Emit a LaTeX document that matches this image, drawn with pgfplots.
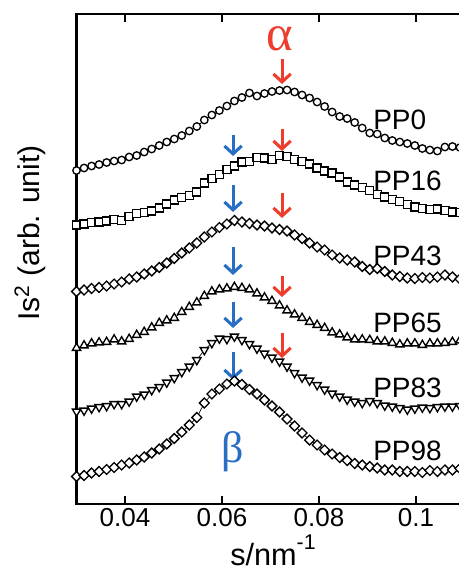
\documentclass[border=0pt]{standalone}
\usepackage{fontspec}
\setmainfont{Liberation Sans}
\newfontfamily\greekfont{Liberation Serif}
\usepackage{pgfplots}
\pgfplotsset{compat=1.18}
\usepackage{pgfplotstable}
\usetikzlibrary{arrows.meta}
\definecolor{ared}{RGB}{238,60,45}
\definecolor{ablue}{RGB}{40,110,195}

\pgfplotstableread{
s p0 p16 p43 p65 p83 p98
0.03000 170.5 225 291.5 348 411.5 476.5
0.03155 168 224 290 345.5 410.5 475.5
0.03310 166 222.5 288.5 343.5 408.5 473
0.03465 164.5 222 287.5 342.5 407 471.5
0.03620 162.5 221 286 342 406 469.5
0.03775 161 219.5 284 339.5 404 467.5
0.03930 160 220.5 282 341.5 404 465
0.04085 157 216.5 279 339 401.5 463
0.04240 155.5 213.5 277 335 396.5 460
0.04395 152 212.5 274 332 394.5 457
0.04550 149 211 271 327.5 390 453
0.04705 145.5 208 267.5 323 387 449
0.04860 142 204 263 320.5 382.5 444
0.05015 139 200 258.5 318 378 438.5
0.05170 135.5 197.5 253 312 372 432
0.05325 131 195.5 248 307 366.5 425
0.05480 126.5 192 243 302.5 360 417.5
0.05635 120 183 237 296 350 403
0.05790 115 178.5 232 291.5 343 394
0.05945 110.5 174.5 227.5 289.5 338.5 389
0.06100 106 169.5 224 288.5 339 384
0.06255 101 166 220.5 287 336.5 381
0.06410 97.5 162 222 288 340 384.5
0.06565 93 161.5 223.5 289.5 344 389.5
0.06720 96 157.5 225 293.5 348.5 394
0.06875 93.5 158 226 297.5 353.5 400
0.07030 91.5 159.5 228 301 357.5 406
0.07185 90.5 155.5 229.5 305.5 361.5 412
0.07340 90 156.5 231 310.5 366.5 419
0.07495 92 159.5 235 314.5 373 426
0.07650 95 161.5 238.5 318 377.5 433
0.07805 98 164 243 322 380.5 440
0.07960 102 168 247 325 385 445
0.08115 106.5 171 250 328 389.5 450
0.08270 112 173 255 332.5 393.5 454
0.08425 116.5 177 258 334.5 396.5 457.5
0.08580 118.5 182 260 337.5 399.5 460.5
0.08735 122.5 185 262 339.5 401.5 463.5
0.08890 128 187.5 266.5 339.5 403 465
0.09045 133 190.5 269.5 340 401 466.5
0.09200 134 194.5 268.5 341.5 403 468
0.09355 138 197 271.5 341.5 405.5 470
0.09510 140.5 199.5 275 343 406.5 470
0.09665 142 201.5 276.5 344.5 408 471.5
0.09820 143.5 204.5 278 343.5 409.5 471.5
0.09975 145.5 207 278.5 343.5 408.5 471.5
0.10130 148.5 208.5 277.5 345 407.5 472.5
0.10285 150 209.5 278 343.5 408 470.5
0.10440 151 209 277 343.5 407 471.5
0.10595 147 210.5 275 343 406.5 470
0.10750 146.5 212 277 342 406.5 470
0.10905 147.5 212.5 279 340.5 406 468.5
}\data

\begin{document}
\begin{tikzpicture}
\useasboundingbox (0pt,0pt) rectangle (344.25pt,430.5pt);
\begin{axis}[
  at={(57.4pt,52.5pt)}, anchor=south west,
  scale only axis, width=298.3pt, height=367.5pt,
  xmin=0.03, xmax=0.112, ymin=14, ymax=504, y dir=reverse,
  xtick={0.04,0.06,0.08,0.1}, xticklabels={0.04,0.06,0.08,0.1},
  ytick=\empty,
  tick label style={font=\fontsize{19.5}{21}\selectfont},
  /pgf/number format/assume math mode=true,
  major tick length=6pt,
  axis line style={line width=1.8pt},
  tick style={line width=1.4pt, black},
  clip=false,
]
\pgfplotsset{mk/.style={black, line width=0.5pt, mark options={fill=white, draw=black, line width=1pt, solid, #1}}}
\addplot[mk={}, mark=*, mark size=2.8pt] table[x=s,y=p0] {\data};
\addplot[mk={}, mark=square*, mark size=3pt] table[x=s,y=p16] {\data};
\addplot[mk={rotate=45}, mark=square*, mark size=2.6pt] table[x=s,y=p43] {\data};
\addplot[mk={}, mark=triangle*, mark size=3.6pt] table[x=s,y=p65] {\data};
\addplot[mk={rotate=180}, mark=triangle*, mark size=3.6pt] table[x=s,y=p83] {\data};
\addplot[mk={rotate=45}, mark=square*, mark size=2.6pt] table[x=s,y=p98] {\data};

\tikzset{ra/.style={ared, line width=2.3pt, -{Straight Barb[length=6pt,width=13pt]}},
         ba/.style={ablue, line width=2.3pt, -{Straight Barb[length=6pt,width=13pt]}}}
\draw[ra] (axis cs:0.07237,59) -- (axis cs:0.07237,84);
\draw[ra] (axis cs:0.07237,129) -- (axis cs:0.07237,151);
\draw[ra] (axis cs:0.07237,193) -- (axis cs:0.07237,218);
\draw[ra] (axis cs:0.07237,276) -- (axis cs:0.07237,297);
\draw[ra] (axis cs:0.07237,333) -- (axis cs:0.07237,358);
\draw[ba] (axis cs:0.06227,135) -- (axis cs:0.06227,156);
\draw[ba] (axis cs:0.06227,185) -- (axis cs:0.06227,212);
\draw[ba] (axis cs:0.06227,247) -- (axis cs:0.06227,275);
\draw[ba] (axis cs:0.06227,302) -- (axis cs:0.06227,328);
\draw[ba] (axis cs:0.06227,352) -- (axis cs:0.06227,380);

\node[ared, font=\greekfont\fontsize{38}{38}\selectfont] at (axis cs:0.07196,39) {α};
\node[ablue, font=\greekfont\fontsize{33}{33}\selectfont] at (axis cs:0.06227,452) {β};

\tikzset{lab/.style={anchor=base west, inner sep=0pt, font=\fontsize{21}{22}\selectfont}}
\node[lab] at (axis cs:0.09113,130) {PP0};
\node[lab] at (axis cs:0.09113,190) {PP16};
\node[lab] at (axis cs:0.09113,265) {PP43};
\node[lab] at (axis cs:0.09113,332) {PP65};
\node[lab] at (axis cs:0.09113,397) {PP83};
\node[lab] at (axis cs:0.09113,460) {PP98};
\end{axis}
\node[anchor=base, inner sep=0pt, font=\fontsize{23}{24}\selectfont] at (204.75pt,6pt) {s/nm\raisebox{0.55em}{\fontsize{16}{16}\selectfont -1}};
\node[rotate=90, font=\fontsize{22.5}{23}\selectfont] at (22.5pt,255.75pt) {Is\textsuperscript{2} (arb. unit)};
\end{tikzpicture}
\end{document}
